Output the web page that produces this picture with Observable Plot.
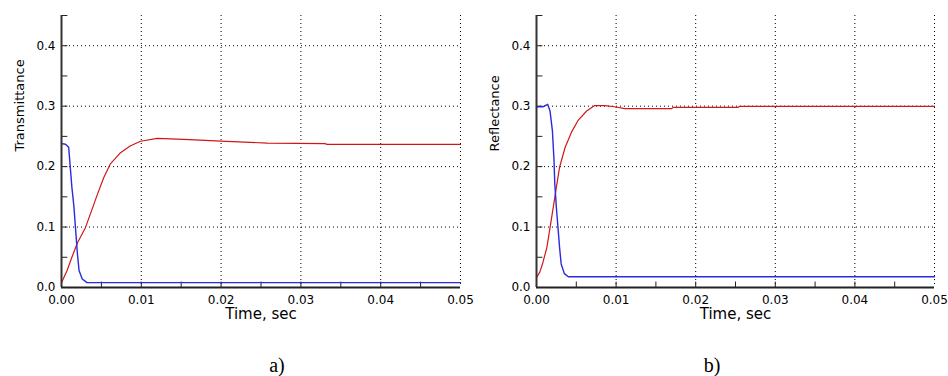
<!DOCTYPE html>
<html>
<head>
<meta charset="utf-8">
<script src="https://cdn.jsdelivr.net/npm/d3@7"></script>
<script src="https://cdn.jsdelivr.net/npm/@observablehq/plot@0.6"></script>
<style>
  html, body { margin: 0; padding: 0; background: #fff; }
  #wrap { position: relative; width: 948px; height: 376px; overflow: hidden; }
  .panel { position: absolute; top: 0; }
  .cap { position: absolute; font-family: "Liberation Serif", "Times New Roman", serif; font-size: 20px; line-height: 20px; transform: translateX(-50%); color: #000; }
</style>
</head>
<body>
<div id="wrap">
  <div class="panel" id="pa" style="left:0px"></div>
  <div class="panel" id="pb" style="left:474px"></div>
  <div class="cap" style="left:277px; top:355px">a)</div>
  <div class="cap" style="left:712px; top:355px">b)</div>
</div>
<script>
// ---- axis ticks ----
const timeTicks = [0, 0.01, 0.02, 0.03, 0.04, 0.05];
const timeTickLabels = ["0.00", "0.01", "0.02", "0.03", "0.04", "0.05"];
const timeGrid = [0.01, 0.02, 0.03, 0.04, 0.05];
const timeMinor = [0.005, 0.01, 0.015, 0.02, 0.025, 0.03, 0.035, 0.04, 0.045];
const valueTicks = [0, 0.1, 0.2, 0.3, 0.4];
const valueTickLabels = ["0.0", "0.1", "0.2", "0.3", "0.4"];
const valueGrid = [0.1, 0.2, 0.3, 0.4];
const valueMinor = [0.05, 0.1, 0.15, 0.2, 0.25, 0.3, 0.35, 0.4, 0.45];

// ---- a) Transmittance ----
const transBlueTime = [0, 0.0005, 0.0009, 0.0011, 0.0013, 0.00155, 0.00175, 0.002, 0.0022, 0.0026, 0.0032, 0.01, 0.02, 0.03, 0.04, 0.05];
const transBlueValue = [0.238, 0.237, 0.232, 0.199, 0.166, 0.135, 0.099, 0.055, 0.028, 0.014, 0.008, 0.008, 0.008, 0.008, 0.008, 0.008];
const transRedTime = [0, 0.0007, 0.0013, 0.002, 0.003, 0.0036, 0.0045, 0.0053, 0.0061, 0.0074, 0.0086, 0.0099, 0.012, 0.0153, 0.02, 0.0258, 0.033, 0.0333, 0.05];
const transRedValue = [0.008, 0.028, 0.05, 0.074, 0.099, 0.121, 0.154, 0.182, 0.204, 0.223, 0.234, 0.242, 0.2466, 0.245, 0.242, 0.239, 0.238, 0.2367, 0.2367];

// ---- b) Reflectance ----
const reflBlueTime = [0, 0.0008, 0.0014, 0.0017, 0.002, 0.0022, 0.0023, 0.0025, 0.0027, 0.0029, 0.0031, 0.0035, 0.004, 0.01, 0.02, 0.03, 0.04, 0.05];
const reflBlueValue = [0.299, 0.299, 0.303, 0.292, 0.259, 0.21, 0.171, 0.132, 0.099, 0.066, 0.039, 0.023, 0.0177, 0.0177, 0.0177, 0.0177, 0.0177, 0.0177];
const reflRedTime = [0, 0.0004, 0.0008, 0.0013, 0.0017, 0.0021, 0.0025, 0.0029, 0.0036, 0.0044, 0.0052, 0.0063, 0.0073, 0.0086, 0.0098, 0.0111, 0.017, 0.0172, 0.0253, 0.0255, 0.05];
const reflRedValue = [0.0166, 0.025, 0.041, 0.066, 0.099, 0.132, 0.166, 0.199, 0.232, 0.257, 0.276, 0.292, 0.301, 0.301, 0.299, 0.296, 0.296, 0.298, 0.298, 0.2995, 0.2995];

const BLUE = "#2a2ae0";
const RED = "#d01818";

function rows(ts, vs) { return ts.map((t, i) => ({t, v: vs[i]})); }

function panel(yLabel, blueRows, redRows, marginLeft) {
  return Plot.plot({
    width: 474,
    height: 330,
    marginLeft,
    marginRight: 14,
    marginTop: 15,
    marginBottom: 43,
    style: {fontFamily: "DejaVu Sans, sans-serif", fontSize: "12px", background: "#fff", color: "#000"},
    x: {domain: [0, 0.05]},
    y: {domain: [0, 0.45]},
    marks: [
      Plot.ruleX(timeGrid, {stroke: "#000", strokeWidth: 1, strokeDasharray: "1,3"}),
      Plot.ruleY(valueGrid, {stroke: "#000", strokeWidth: 1, strokeDasharray: "1,3"}),
      Plot.ruleY(valueMinor, {x1: 0, x2: 0.0008, stroke: "#222", strokeWidth: 1}),
      Plot.ruleX(timeMinor, {y1: 0, y2: 0.009, stroke: "#222", strokeWidth: 1}),
      Plot.lineY(redRows, {x: "t", y: "v", stroke: RED, strokeWidth: 1.2}),
      Plot.lineY(blueRows, {x: "t", y: "v", stroke: BLUE, strokeWidth: 1.4}),
      Plot.ruleX([0], {stroke: "#333", strokeWidth: 2}),
      Plot.ruleY([0], {stroke: "#222", strokeWidth: 2}),
      Plot.axisY({ticks: valueTicks, tickFormat: (d, i) => valueTickLabels[i], tickSize: 0, tickPadding: 6, label: null, fontSize: 12}),
      Plot.axisX({ticks: timeTicks, tickFormat: (d, i) => timeTickLabels[i], tickSize: 0, tickPadding: 8, label: null, fontSize: 12}),
      Plot.text([yLabel], {frameAnchor: "left", rotate: -90, dx: -42, fontSize: 13}),
      Plot.text(["Time, sec"], {frameAnchor: "bottom", lineAnchor: "middle", dy: 27, fontSize: 15})
    ]
  });
}

document.getElementById("pa").append(panel("Transmittance", rows(transBlueTime, transBlueValue), rows(transRedTime, transRedValue), 61));
document.getElementById("pb").append(panel("Reflectance", rows(reflBlueTime, reflBlueValue), rows(reflRedTime, reflRedValue), 62));
</script>
</body>
</html>
